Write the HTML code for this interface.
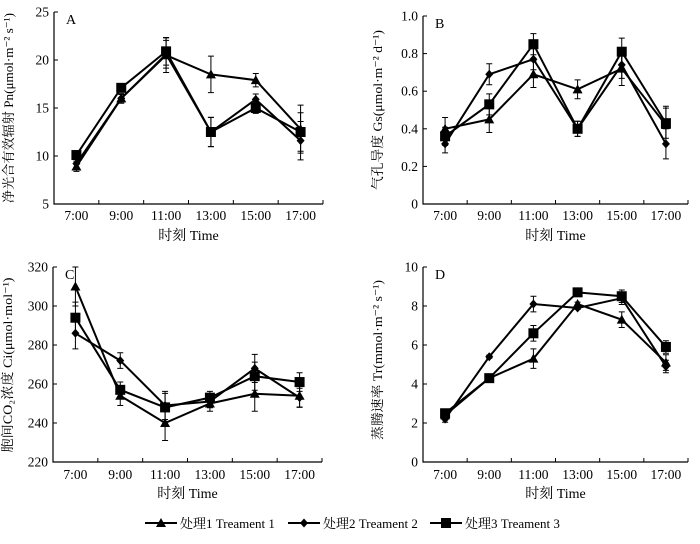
<!DOCTYPE html>
<html><head><meta charset="utf-8"><style>
body{margin:0;background:#fff;width:700px;height:539px;overflow:hidden}
svg{font-family:"Liberation Serif","Noto Serif CJK SC",serif}
</style></head><body>
<svg id="c" width="700" height="539"></svg>
<script>
const categories=["7:00","9:00","11:00","13:00","15:00","17:00"];
const aT1=[8.9,16.0,20.5,18.5,17.9,12.8], aT2=[9.2,16.0,20.6,12.5,15.9,11.6], aT3=[10.1,17.1,20.9,12.5,15.0,12.5];
const aErr=[0.5,0.5,1.8,1.9,0.7,2.5];
const bT1=[0.40,0.45,0.69,0.61,0.72,0.42], bT2=[0.32,0.69,0.77,0.40,0.74,0.32], bT3=[0.36,0.53,0.85,0.40,0.81,0.43];
const bErr=[0.06,0.07,0.07,0.05,0.09,0.10];
const cT1=[310,254,240,250,255,254], cT2=[286,272,249,251,268,253], cT3=[294,257,248,253,264,261];
const cErr=[10,5,9,4,9,6];
const dT1=[2.4,4.3,5.3,8.1,7.3,5.1], dT2=[2.2,5.4,8.1,7.9,8.4,4.9], dT3=[2.5,4.3,6.6,8.7,8.5,5.9];
const dErr=[0.2,0.1,0.5,0.1,0.4,0.4];
const aTicks=[5,10,15,20,25], bTicks=[0,0.2,0.4,0.6,0.8,1.0], cTicks=[220,240,260,280,300,320], dTicks=[0,2,4,6,8,10];
const bTickLabels=["0","0.2","0.4","0.6","0.8","1.0"];
const NS="http://www.w3.org/2000/svg", svg=document.getElementById('c');
function el(t,a,p){const e=document.createElementNS(NS,t);for(const k in a)e.setAttribute(k,a[k]);(p||svg).appendChild(e);return e;}
const panels=[
 {id:'a',letter:'A',x0:54,x1:323,yt:12,yb:204,min:5,max:25,ticks:aTicks,labels:aTicks.map(String),s:[aT1,aT2,aT3],err:aErr,yl:'净光合有效辐射 Pn(μmol·m⁻² s⁻¹)',xl:220,tl:240,len:190,yc:108},
 {id:'b',letter:'B',x0:423,x1:688,yt:16,yb:204,min:0,max:1,ticks:bTicks,labels:bTickLabels,s:[bT1,bT2,bT3],err:bErr,yl:'气孔导度 Gs(μmol·m⁻² d⁻¹)',xl:220,tl:240,len:160,yc:110},
 {id:'c',letter:'C',x0:53,x1:322,yt:267,yb:462,min:220,max:320,ticks:cTicks,labels:cTicks.map(String),s:[cT1,cT2,cT3],err:cErr,yl:'胞间CO₂浓度 Ci(μmol·mol⁻¹)',xl:479,tl:498,len:175,yc:365},
 {id:'d',letter:'D',x0:423,x1:688,yt:267,yb:462,min:0,max:10,ticks:dTicks,labels:dTicks.map(String),s:[dT1,dT2,dT3],err:dErr,yl:'蒸腾速率 Tr(mmol·m⁻² s⁻¹)',xl:479,tl:498,len:160,yc:360}];
function marker(kind,x,y,g){
 if(kind===0)return el('path',{d:`M${x},${y-5}L${x+5},${y+4}L${x-5},${y+4}Z`,fill:'#000'},g);
 if(kind===1)return el('path',{d:`M${x},${y-4.5}L${x+4},${y}L${x},${y+4.5}L${x-4},${y}Z`,fill:'#000'},g);
 return el('rect',{x:x-5,y:y-5,width:10,height:10,fill:'#000'},g);
}
panels.forEach(p=>{
 const g=el('g',{});
 const bw=(p.x1-p.x0)/categories.length;
 const X=i=>p.x0+bw*(i+0.5), Y=v=>p.yb-(v-p.min)/(p.max-p.min)*(p.yb-p.yt);
 el('path',{d:`M${p.x0},${p.yt}V${p.yb}H${p.x1}`,stroke:'#000',fill:'none','stroke-width':1.2},g);
 p.ticks.forEach((t,i)=>{const y=Y(t);el('line',{x1:p.x0,x2:p.x0+4,y1:y,y2:y,stroke:'#000'},g);
  const tx=el('text',{x:p.x0-5,y:y+4.5,'text-anchor':'end','font-size':13.5},g);tx.textContent=p.labels[i];
  });
 for(let i=1;i<=categories.length;i++){const x=p.x0+bw*i;el('line',{x1:x,x2:x,y1:p.yb,y2:p.yb-4,stroke:'#000'},g);}
 categories.forEach((c,i)=>{const t=el('text',{x:X(i),y:p.xl,'text-anchor':'middle','font-size':13.5},g);t.textContent=c;
  });
 const xt=el('text',{x:(p.x0+p.x1)/2,y:p.tl,'text-anchor':'middle','font-size':14},g);xt.textContent='时刻 Time';
 
 const yx=p.x0-41,yc=p.yc;
 const yt=el('text',{x:yx,y:yc,'text-anchor':'middle','font-size':13,textLength:p.len,lengthAdjust:'spacingAndGlyphs',transform:`rotate(-90 ${yx} ${yc})`},g);yt.textContent=p.yl;
 
 const lt=el('text',{x:p.x0+12,y:p.yt+12,'font-size':14},g);lt.textContent=p.letter;
 
 p.s.forEach((vals,k)=>{
  const sg=el('g',{},g);
  vals.forEach((v,i)=>{const e=p.err[i]*(k===0?1:0.8);const x=X(i);
   el('path',{d:`M${x},${Y(v-e)}V${Y(v+e)}M${x-3},${Y(v-e)}h6M${x-3},${Y(v+e)}h6`,stroke:'#000','stroke-width':1,fill:'none'},sg);});
  el('polyline',{points:vals.map((v,i)=>X(i)+','+Y(v)).join(' '),fill:'none',stroke:'#000','stroke-width':2},sg);
  vals.forEach((v,i)=>{const m=marker(k,X(i),Y(v),sg);});
 });
});
const leg=el('g',{});
const legText=['处理1 Treament 1','处理2 Treament 2','处理3 Treament 3'],legX=[145,288,430];
legText.forEach((t,k)=>{const x=legX[k];
 const eg=el('g',{},leg);
 el('line',{x1:x,x2:x+32,y1:523,y2:523,stroke:'#000','stroke-width':2},eg);marker(k,x+16,523,eg);
 const tx=el('text',{x:x+35,y:528,'font-size':13},eg);tx.textContent=t;});
</script></body></html>
